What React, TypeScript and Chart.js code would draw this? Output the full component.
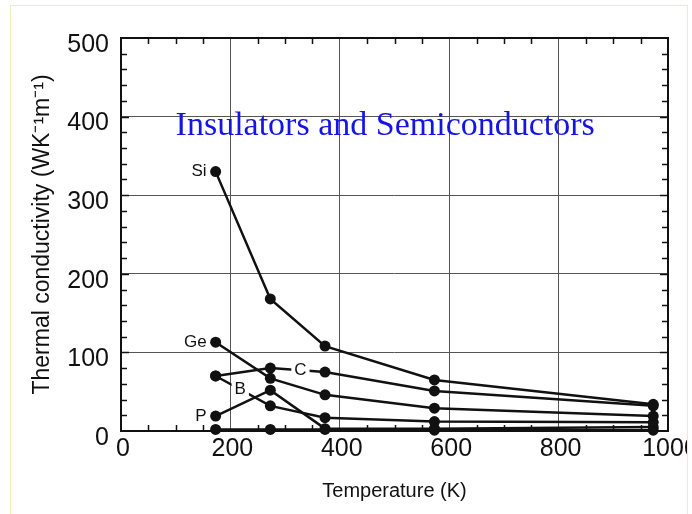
import React, { useEffect, useRef } from "react";
import { Chart, registerables } from "chart.js";

Chart.register(...registerables);

// ---- data ----
const temperatures = [173, 273, 373, 573, 973];
const siValues = [330, 168, 108, 65, 34];
const geValues = [113, 67, 46, 29, 19];
const cValues = [70, 80, 75, 51, 32];
const bValues = [70, 32, 17, 12, 11];
const pValues = [19, 52, 3, 3, 5];
const otherValues = [2, 2, 2, 1, 1];

const xTickValues = [0, 200, 400, 600, 800, 1000];
const yTickValues = [0, 100, 200, 300, 400, 500];

const chartTitle = "Insulators and Semiconductors";
const xAxisTitle = "Temperature (K)";
const yAxisTitle = "Thermal conductivity (WK\u207B\u00B9m\u207B\u00B9)";

// label placement: "start" = left of first point, number = inline at that temperature
const seriesNames = ["Si", "Ge", "C", "B", "P", ""];
const seriesValues = [siValues, geValues, cValues, bValues, pValues, otherValues];
const labelAt: (string | number)[] = ["start", "start", 328, 218, "start", ""];

const SANS = "'Liberation Sans', Arial, Helvetica, sans-serif";
const SERIF = "'Liberation Serif', 'Times New Roman', Times, serif";

const framePlugin = {
  id: "frameAndMinorTicks",
  beforeDatasetsDraw(chart: any) {
    const { ctx, chartArea: a, scales } = chart;
    const xs = scales.x;
    const ys = scales.y;
    ctx.save();
    ctx.strokeStyle = "#111";
    ctx.lineWidth = 1.5;
    const len = 6;
    for (let v = 50; v < 1000; v += 50) {
      if (v % 200 === 0) continue;
      const px = Math.round(xs.getPixelForValue(v)) + 0.5;
      ctx.beginPath();
      ctx.moveTo(px, a.bottom);
      ctx.lineTo(px, a.bottom - len);
      ctx.moveTo(px, a.top);
      ctx.lineTo(px, a.top + len);
      ctx.stroke();
    }
    for (let v = 20; v < 500; v += 20) {
      const py = Math.round(ys.getPixelForValue(v)) + 0.5;
      const l = v % 100 === 0 ? len + 2 : len;
      ctx.beginPath();
      ctx.moveTo(a.left, py);
      ctx.lineTo(a.left + l, py);
      ctx.moveTo(a.right, py);
      ctx.lineTo(a.right - l, py);
      ctx.stroke();
    }
    ctx.lineWidth = 2;
    ctx.strokeRect(a.left, a.top, a.right - a.left, a.bottom - a.top);
    ctx.restore();
  },
  afterDraw(chart: any) {
    const { ctx, scales } = chart;
    const xs = scales.x;
    const ys = scales.y;
    ctx.save();
    // series labels
    ctx.font = `17px ${SANS}`;
    ctx.fillStyle = "#111";
    ctx.textBaseline = "middle";
    seriesNames.forEach((name, i) => {
      if (!name) return;
      const vals = seriesValues[i];
      const where = labelAt[i];
      if (where === "start") {
        const px = xs.getPixelForValue(temperatures[0]);
        const py = ys.getPixelForValue(vals[0]);
        ctx.textAlign = "right";
        ctx.fillText(name, px - 9, py);
      } else if (typeof where === "number") {
        let k = 0;
        while (k < temperatures.length - 2 && temperatures[k + 1] < where) k++;
        const x0 = xs.getPixelForValue(temperatures[k]);
        const x1 = xs.getPixelForValue(temperatures[k + 1]);
        const y0 = ys.getPixelForValue(vals[k]);
        const y1 = ys.getPixelForValue(vals[k + 1]);
        const px = xs.getPixelForValue(where);
        const py = y0 + ((px - x0) / (x1 - x0)) * (y1 - y0);
        const w = ctx.measureText(name).width;
        ctx.fillStyle = "#fff";
        ctx.fillRect(px - w / 2 - 3, py - 9, w + 6, 18);
        ctx.fillStyle = "#111";
        ctx.textAlign = "center";
        ctx.fillText(name, px, py);
      }
    });
    // title inside the plot
    ctx.font = `34px ${SERIF}`;
    ctx.fillStyle = "#1414e6";
    ctx.textAlign = "center";
    ctx.textBaseline = "alphabetic";
    ctx.fillText(chartTitle, xs.getPixelForValue(483), ys.getPixelForValue(377));
    ctx.restore();
  },
};

export default function App() {
  const canvasRef = useRef<HTMLCanvasElement | null>(null);

  useEffect(() => {
    if (!canvasRef.current) return;
    const datasets = seriesValues.map((vals, i) => ({
      label: seriesNames[i] || "other",
      data: temperatures.map((t, j) => ({ x: t, y: vals[j] })),
      borderColor: "#111",
      backgroundColor: "#111",
      borderWidth: 2.5,
      pointRadius: 5.5,
      pointBackgroundColor: "#111",
      pointBorderColor: "#111",
      pointBorderWidth: 0,
      tension: 0,
      fill: false,
      clip: 10,
    }));

    const chart = new Chart(canvasRef.current, {
      type: "line",
      data: { datasets },
      options: {
        animation: false,
        responsive: false,
        devicePixelRatio: 1,
        layout: { padding: { top: 32, right: 19, left: 0, bottom: 0 } },
        plugins: {
          legend: { display: false },
          tooltip: { enabled: false },
          title: { display: false },
        },
        scales: {
          x: {
            type: "linear",
            min: 0,
            max: 1000,
            afterBuildTicks: (scale: any) => {
              scale.ticks = xTickValues.map((v) => ({ value: v }));
            },
            afterFit: (scale: any) => {
              scale.height = 83;
              scale.paddingLeft = 0;
              scale.paddingRight = 0;
            },
            grid: { color: "#555", lineWidth: 1, drawTicks: false },
            border: { display: false },
            ticks: {
              font: { family: SANS, size: 25 },
              color: "#111",
              padding: 3,
              labelOffset: 2,
              maxRotation: 0,
              autoSkip: false,
              callback: (v: any) => String(v),
            },
            title: {
              display: true,
              text: xAxisTitle,
              font: { family: SANS, size: 20 },
              color: "#111",
              padding: { top: 0, bottom: 11 },
            },
          },
          y: {
            type: "linear",
            min: 0,
            max: 500,
            afterBuildTicks: (scale: any) => {
              scale.ticks = yTickValues.map((v) => ({ value: v }));
            },
            afterFit: (scale: any) => {
              scale.width = 110;
              scale.paddingTop = 0;
              scale.paddingBottom = 0;
            },
            grid: { color: "#555", lineWidth: 1, drawTicks: false },
            border: { display: false },
            ticks: {
              font: { family: SANS, size: 25 },
              color: "#111",
              padding: 12,
              labelOffset: 7,
              autoSkip: false,
              callback: (v: any) => String(v),
            },
            title: {
              display: true,
              text: yAxisTitle,
              font: { family: SANS, size: 23 },
              color: "#111",
              padding: { top: 18, bottom: 0 },
            },
          },
        },
      },
      plugins: [framePlugin],
    });
    return () => chart.destroy();
  }, []);

  return (
    <div
      style={{
        position: "absolute",
        left: 10,
        top: 5,
        width: 678,
        height: 509,
        boxSizing: "border-box",
        borderTop: "1px solid #f6eab8",
        borderLeft: "1px solid #f6eab8",
        borderRight: "1px solid #f6eab8",
        overflow: "hidden",
        background: "#fff",
      }}
    >
      <canvas ref={canvasRef} width={676} height={508} style={{ display: "block" }} />
    </div>
  );
}
